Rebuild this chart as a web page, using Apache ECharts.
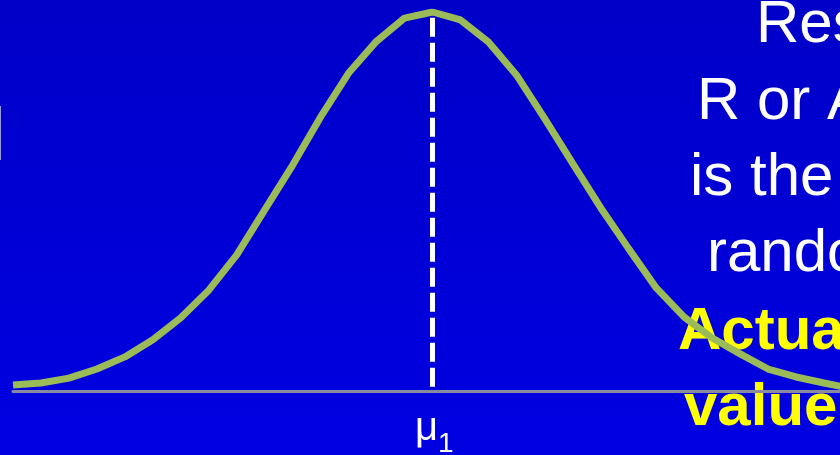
<!DOCTYPE html>
<html>
<head>
<meta charset="UTF-8">
<title>normal curve</title>
<script src="https://cdn.jsdelivr.net/npm/echarts@6/dist/echarts.min.js"></script>
<style>
  html, body { margin: 0; padding: 0; }
  #main { width: 840px; height: 455px; }
</style>
</head>
<body>
<div id="main"></div>
<script>
// x position in steps from the mean, curve height relative to the peak
var curveX = [-15, -14, -13, -12, -11, -10, -9, -8, -7, -6, -5, -4, -3, -2, -1, 0,
              1, 2, 3, 4, 5, 6, 7, 8, 9, 10, 11, 12, 13, 14, 15];
var curveY = [0.016, 0.021, 0.034, 0.058, 0.090, 0.135, 0.193, 0.266, 0.359, 0.478, 0.596, 0.723, 0.839, 0.923, 0.984, 1.0,
              0.979, 0.921, 0.834, 0.720, 0.602, 0.485, 0.377, 0.272, 0.195, 0.140, 0.098, 0.058, 0.037, 0.021, 0.006];
var muX = 0;
var muTop = 0.985, muBottom = 0.01;
var textLines = ['Res', 'R or A', 'is the', 'rando'];
var boldLines = ['Actua', 'value'];

var curveData = curveX.map(function (x, i) { return [x, curveY[i]]; });

var myChart = echarts.init(document.getElementById('main'));
var font = 'Liberation Sans, Arial, sans-serif';
var lineLeft = [756, 697, 690, 707];
var lineMid = [25, 102, 178, 254];
var graphics = [];
textLines.forEach(function (t, i) {
  graphics.push({ type: 'text', z: -1, x: lineLeft[i], y: lineMid[i],
    style: { text: t, fill: '#ffffff', font: '60px ' + font, textAlign: 'left', textVerticalAlign: 'middle' } });
});
var boldLeft = [678, 684];
var boldMid = [332, 408];
boldLines.forEach(function (t, i) {
  graphics.push({ type: 'text', z: -1, x: boldLeft[i], y: boldMid[i],
    style: { text: t, fill: '#ffff00', font: 'bold 60px ' + font, textAlign: 'left', textVerticalAlign: 'middle' } });
});
graphics.push({ type: 'text', z: -1, x: 415, y: 429,
  style: { text: 'μ', fill: '#ffffff', font: '40px ' + font, textVerticalAlign: 'middle' } });
graphics.push({ type: 'text', z: -1, x: 438, y: 444,
  style: { text: '1', fill: '#ffffff', font: '28px ' + font, textVerticalAlign: 'middle' } });
graphics.push({ type: 'rect', z: -1, shape: { x: 0, y: 106, width: 1, height: 54 },
  style: { fill: '#9a9ad8' } });

var option = {
  backgroundColor: {
    type: 'linear', x: 0, y: 0, x2: 0, y2: 1,
    colorStops: [{ offset: 0, color: '#0000c8' }, { offset: 1, color: '#0000e2' }]
  },
  animation: false,
  grid: { left: 13, right: 0, top: 12, bottom: 64 },
  xAxis: {
    type: 'value', min: -15, max: 14.57,
    axisLine: { show: true, lineStyle: { color: '#8a8aa0', width: 3 } },
    axisTick: { show: false }, axisLabel: { show: false }, splitLine: { show: false }
  },
  yAxis: {
    type: 'value', min: 0, max: 1, show: false, splitLine: { show: false }
  },
  graphic: graphics,
  series: [
    {
      type: 'line', z: 1, symbol: 'none', silent: true,
      data: [[muX, muTop], [muX, muBottom]],
      lineStyle: { color: '#ffffff', width: 5, type: [19, 6] }
    },
    {
      type: 'line', z: 3, symbol: 'none', smooth: false,
      data: curveData,
      lineStyle: { color: '#9bbb59', width: 7 }
    }
  ]
};
myChart.setOption(option);
</script>
</body>
</html>
